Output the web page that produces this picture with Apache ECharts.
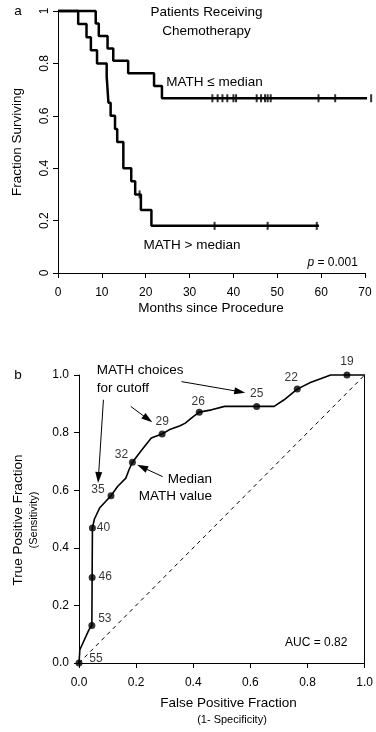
<!DOCTYPE html>
<html>
<head>
<meta charset="utf-8">
<script src="https://cdn.jsdelivr.net/npm/echarts@6/dist/echarts.min.js"></script>
<style>
html,body{margin:0;padding:0;background:#fff;}
#chart{width:376px;height:732px;}
</style>
</head>
<body>
<div id="chart"></div>
<script>
// ---------- Panel a: Kaplan-Meier data ----------
// MATH <= median group
const lowEventTimes = [8.6, 9.3, 11.3, 12.6, 16.0, 21.9, 23.7];
const lowEventSurv  = [0.952, 0.905, 0.857, 0.810, 0.762, 0.714, 0.667];
const lowCensorTimes = [35.2, 36.4, 37.5, 38.6, 40.0, 40.6, 45.3, 46.3, 47.2, 47.8, 48.5, 59.4, 63.2, 71.4];
const lowEndTime = 71.4;
// MATH > median group
const highEventTimes = [4.6, 6.5, 7.5, 8.9, 11.1, 11.5, 12.0, 13.0, 13.5, 14.9, 16.7, 17.6, 18.9, 21.3];
const highEventSurv  = [0.95, 0.90, 0.85, 0.80, 0.75, 0.65, 0.60, 0.55, 0.50, 0.40, 0.35, 0.30, 0.24, 0.18];
const highCensorTimes = [18.6, 35.7, 47.8, 59.0];
const highEndTime = 59.5;
const kmXTicks = [0, 10, 20, 30, 40, 50, 60, 70];
const kmYTicks = [0, 0.2, 0.4, 0.6, 0.8, 1];

// ---------- Panel b: ROC data ----------
const rocCurveFPF = [0, 0.003, 0.035, 0.045, 0.046, 0.047, 0.054, 0.072, 0.112, 0.135, 0.164, 0.175, 0.187, 0.221, 0.253, 0.274, 0.291, 0.32, 0.354, 0.372, 0.401, 0.421, 0.464, 0.51, 0.622, 0.683, 0.718, 0.764, 0.81, 0.881, 0.938, 1.0];
const rocCurveTPF = [0, 0.046, 0.116, 0.13, 0.297, 0.469, 0.50, 0.538, 0.581, 0.613, 0.642, 0.671, 0.697, 0.741, 0.781, 0.789, 0.795, 0.812, 0.824, 0.833, 0.856, 0.871, 0.879, 0.891, 0.891, 0.891, 0.914, 0.951, 0.974, 1.0, 1.0, 1.0];
const cutoffLabels = ['55', '53', '46', '40', '35', '32', '29', '26', '25', '22', '19'];
const cutoffFPF = [0, 0.045, 0.046, 0.047, 0.112, 0.187, 0.291, 0.421, 0.622, 0.764, 0.938];
const cutoffTPF = [0, 0.13, 0.297, 0.469, 0.581, 0.697, 0.795, 0.871, 0.891, 0.951, 1.0];
const diagX = [0, 1];
const diagY = [0, 1];
// annotation arrows (data coordinates): [x1, y1, x2(tip), y2(tip)]
const arrowChoices35 = [0.0855, 0.914, 0.068, 0.644];
const arrowChoices29 = [0.181, 0.891, 0.241, 0.847];
const arrowChoices25 = [0.359, 0.977, 0.563, 0.942];
const arrowMedian32  = [0.293, 0.647, 0.221, 0.680];
const rocTicks = [0, 0.2, 0.4, 0.6, 0.8, 1.0];

// label offsets (style) for cutoff labels, px relative to dot centre
const cutoffLabelOffsets = [[17,-4],[13,-7],[13,-1],[11,0],[-13,-6],[-11,-8],[0,-12],[-1,-10],[0,-13],[-6,-11],[0,-13]];

const FONT = '"Liberation Sans", Arial, Helvetica, sans-serif';

function kmPath(times, surv, endT) {
  const pts = [[0, 1]];
  let s = 1;
  for (let i = 0; i < times.length; i++) {
    pts.push([times[i], s]);
    s = surv[i];
    pts.push([times[i], s]);
  }
  pts.push([endT, s]);
  return pts;
}
function levelAt(times, surv, t) {
  let s = 1;
  for (let i = 0; i < times.length; i++) if (times[i] <= t) s = surv[i];
  return s;
}
function censorPts(ct, times, surv) {
  return ct.map(t => [t, levelAt(times, surv, t)]);
}

const chart = echarts.init(document.getElementById('chart'), null, {renderer: 'canvas'});

const axisCommon = {
  axisLine: {show: true, lineStyle: {color: '#000', width: 1}},
  axisTick: {show: true, length: 5, lineStyle: {color: '#000', width: 1}},
  splitLine: {show: false},
  axisLabel: {color: '#000', fontSize: 12, fontFamily: FONT}
};

function txt(x, y, text, size, align, opts) {
  return Object.assign({
    type: 'text', x: x, y: y, silent: true,
    style: {text: text, fill: '#000', font: size + 'px ' + FONT, textAlign: align || 'center', textVerticalAlign: 'middle'}
  }, opts || {});
}

function arrow(a) {
  return [{coord: [a[0], a[1]]}, {coord: [a[2], a[3]]}];
}

const option = {
  animation: false,
  backgroundColor: '#fff',
  grid: [
    {left: 58, top: 11, width: 307, height: 262},
    {left: 79, top: 375, width: 289, height: 288}
  ],
  xAxis: [
    Object.assign({}, axisCommon, {
      gridIndex: 0, type: 'value', min: kmXTicks[0], max: kmXTicks[kmXTicks.length - 1], interval: 10,
      axisLabel: Object.assign({}, axisCommon.axisLabel, {margin: 14})
    }),
    Object.assign({}, axisCommon, {
      gridIndex: 1, type: 'value', min: rocTicks[0], max: rocTicks[rocTicks.length - 1], interval: 0.2,
      axisLabel: Object.assign({}, axisCommon.axisLabel, {margin: 14, formatter: v => v.toFixed(1)})
    })
  ],
  yAxis: [
    Object.assign({}, axisCommon, {
      gridIndex: 0, type: 'value', min: kmYTicks[0], max: kmYTicks[kmYTicks.length - 1], interval: 0.2,
      axisLabel: Object.assign({}, axisCommon.axisLabel, {
        margin: 7, rotate: 90,
        formatter: v => (v === 0 ? '0' : v === 1 ? '1' : v.toFixed(1))
      })
    }),
    Object.assign({}, axisCommon, {
      gridIndex: 1, type: 'value', min: rocTicks[0], max: rocTicks[rocTicks.length - 1], interval: 0.2,
      axisLabel: Object.assign({}, axisCommon.axisLabel, {margin: 10, formatter: v => v.toFixed(1)})
    }),
    {
      gridIndex: 1, type: 'value', position: 'right', min: 0, max: 1,
      axisLine: {show: true, lineStyle: {color: '#000', width: 1}},
      axisTick: {show: false}, axisLabel: {show: false}, splitLine: {show: false}
    }
  ],
  series: [
    {
      type: 'line', xAxisIndex: 0, yAxisIndex: 0, clip: false,
      data: kmPath(lowEventTimes, lowEventSurv, lowEndTime),
      showSymbol: false, lineStyle: {color: '#000', width: 2.5}, z: 3
    },
    {
      type: 'line', xAxisIndex: 0, yAxisIndex: 0, clip: false,
      data: kmPath(highEventTimes, highEventSurv, highEndTime),
      showSymbol: false, lineStyle: {color: '#000', width: 2.5}, z: 3
    },
    {
      type: 'scatter', xAxisIndex: 0, yAxisIndex: 0, clip: false,
      data: censorPts(lowCensorTimes, lowEventTimes, lowEventSurv).concat(censorPts(highCensorTimes, highEventTimes, highEventSurv)),
      symbol: 'rect', symbolSize: [2, 8], itemStyle: {color: '#000'}, z: 4
    },
    {
      type: 'line', xAxisIndex: 1, yAxisIndex: 1,
      data: diagX.map((x, i) => [x, diagY[i]]),
      showSymbol: false, lineStyle: {color: '#000', width: 1, type: [4, 4]}, z: 2
    },
    {
      type: 'line', xAxisIndex: 1, yAxisIndex: 1, clip: false,
      data: rocCurveFPF.map((x, i) => [x, rocCurveTPF[i]]),
      showSymbol: false, lineStyle: {color: '#000', width: 1.6}, z: 3,
      markLine: {
        silent: true, symbol: ['none', 'triangle'], symbolSize: [7, 11],
        label: {show: false},
        lineStyle: {color: '#000', width: 1, type: 'solid'},
        data: [arrow(arrowChoices35), arrow(arrowChoices29), arrow(arrowChoices25), arrow(arrowMedian32)]
      }
    },
    {
      type: 'scatter', xAxisIndex: 1, yAxisIndex: 1, clip: false,
      data: cutoffFPF.map((x, i) => ({
        value: [x, cutoffTPF[i]],
        label: {offset: cutoffLabelOffsets[i]}
      })),
      symbol: 'circle', symbolSize: 7, itemStyle: {color: '#000'}, z: 5,
      label: {
        show: true, position: 'inside', color: '#000', fontSize: 12, fontFamily: FONT,
        formatter: p => cutoffLabels[p.dataIndex]
      }
    }
  ],
  graphic: [
    txt(18, 11, 'a', 13.5),
    txt(18, 375, 'b', 13.5),
    txt(206.5, 12.5, 'Patients Receiving', 13.5),
    txt(206.5, 31, 'Chemotherapy', 13.5),
    txt(214.5, 82, 'MATH \u2264 median', 13.5),
    txt(192, 245.5, 'MATH > median', 13.5),
    {
      type: 'text', x: 307.5, y: 263, silent: true,
      style: {
        text: '{i|p} = 0.001', fill: '#000', font: '12px ' + FONT, textAlign: 'left', textVerticalAlign: 'middle',
        rich: {i: {fontStyle: 'italic', fontSize: 12, fontFamily: FONT}}
      }
    },
    txt(211, 308, 'Months since Procedure', 13.5),
    txt(17, 142, 'Fraction Surviving', 13.5, 'center', {rotation: Math.PI / 2}),
    txt(96.7, 370.5, 'MATH choices', 13.5, 'left'),
    txt(96.7, 388, 'for cutoff', 13.5, 'left'),
    txt(212, 479.5, 'Median', 13.5, 'right'),
    txt(212, 496, 'MATH value', 13.5, 'right'),
    txt(285, 643, 'AUC = 0.82', 12, 'left'),
    txt(18, 520, 'True Positive Fraction', 13.5, 'center', {rotation: Math.PI / 2}),
    txt(34, 520, '(Sensitivity)', 11, 'center', {rotation: Math.PI / 2}),
    txt(228.5, 703.5, 'False Positive Fraction', 13.5),
    txt(232, 720, '(1- Specificity)', 11)
  ]
};
chart.setOption(option);
</script>
</body>
</html>
